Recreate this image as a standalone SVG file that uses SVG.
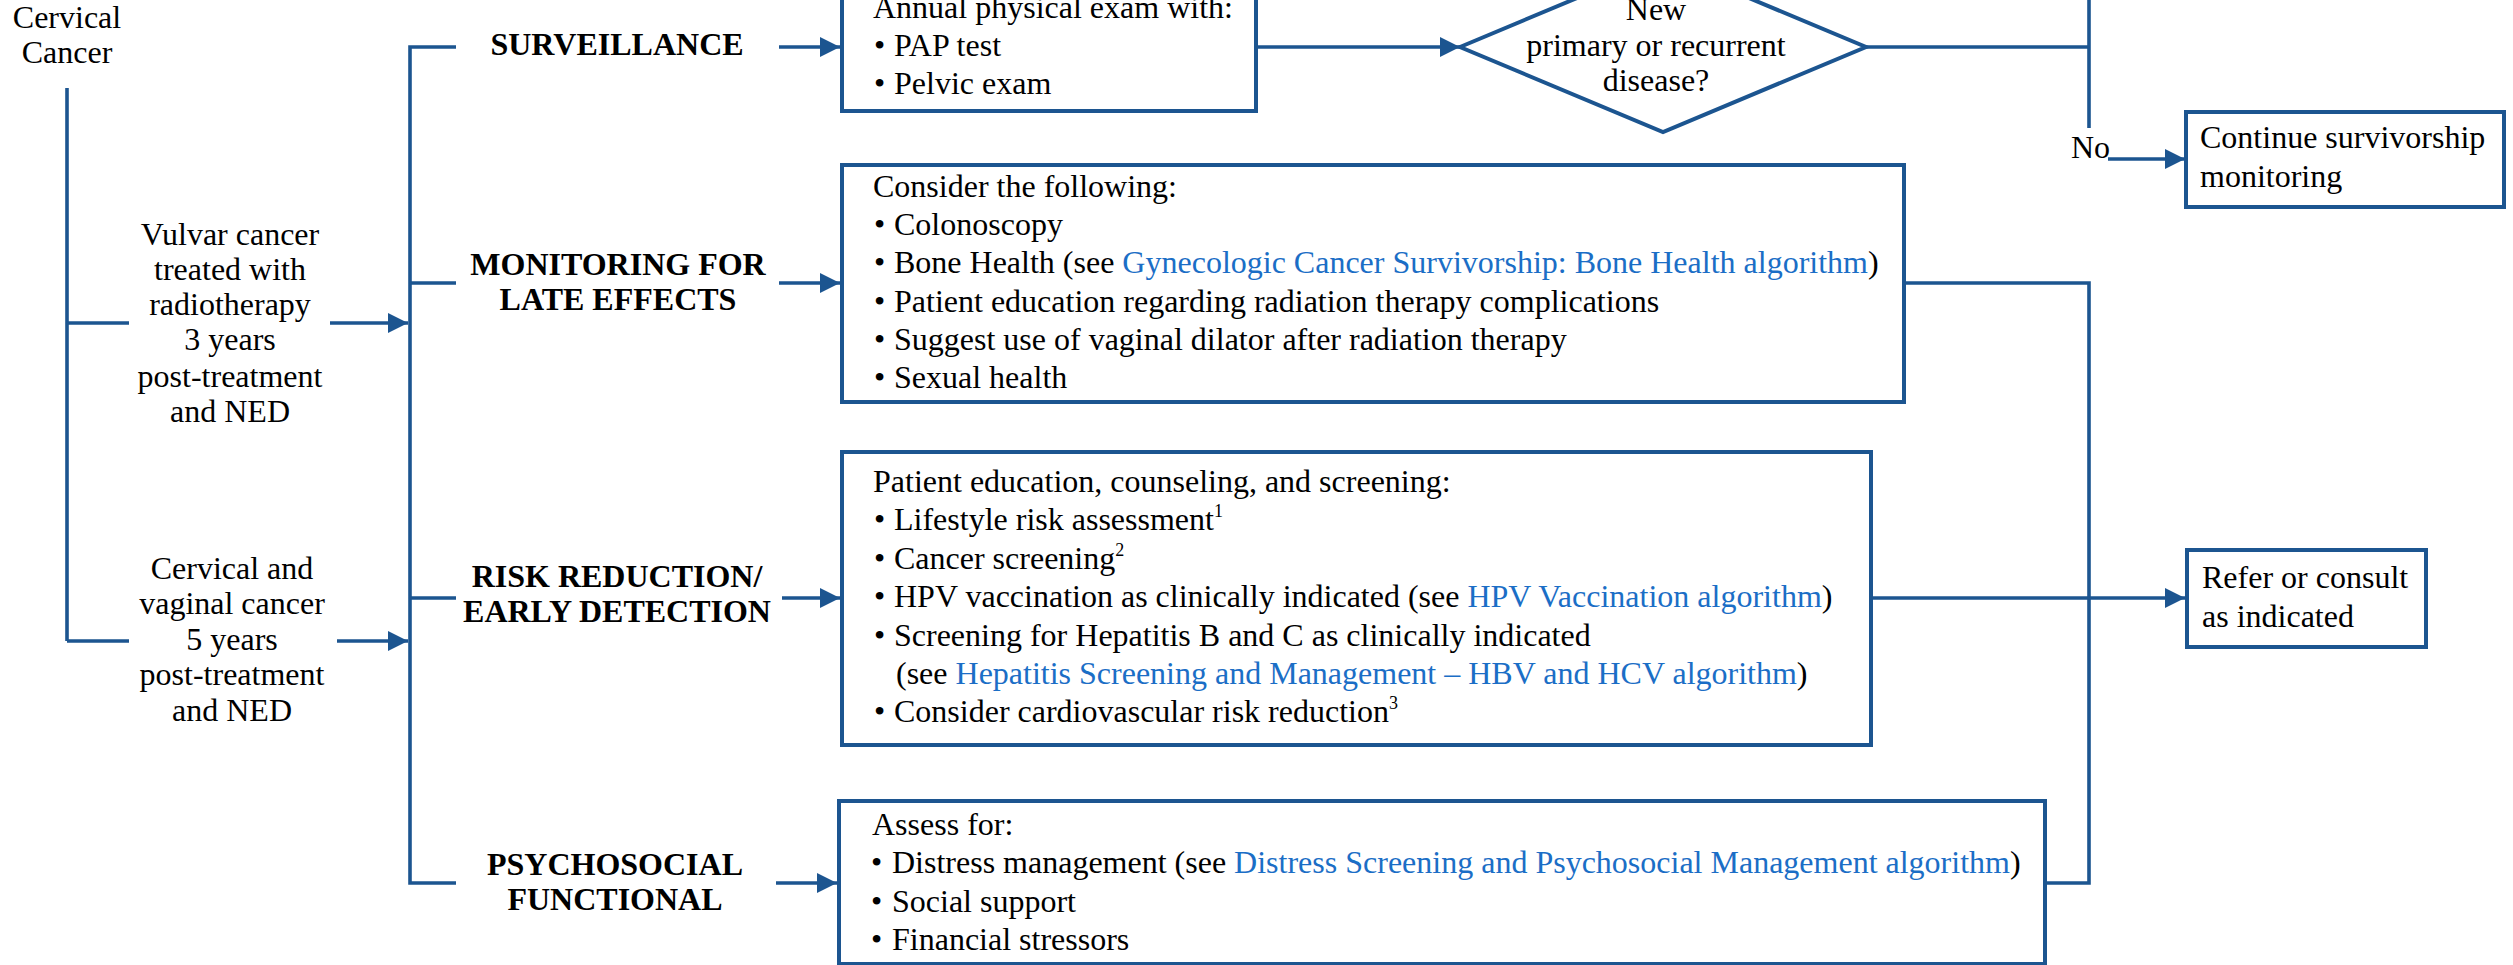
<svg xmlns="http://www.w3.org/2000/svg" width="2513" height="965" viewBox="0 0 2513 965">
<style>
text{font-family:"Liberation Serif","Times New Roman",serif;font-size:32px;fill:#000}
.c{text-anchor:middle}
.b{font-weight:bold}
.lk{fill:#1b6ec6}
.sup{font-size:18px}
.box{fill:#fff;stroke:#1c5590;stroke-width:4}
.ln{fill:none;stroke:#1c5590;stroke-width:3.6}
</style>
<defs>
<marker id="ah" markerUnits="userSpaceOnUse" viewBox="0 0 20 20" refX="20" refY="10" markerWidth="20" markerHeight="20" orient="auto">
<path d="M0,0 L20,10 L0,20 z" fill="#1c5590"/>
</marker>
</defs>
<rect width="2513" height="965" fill="#fff"/>

<g id="connectors">
<path class="ln" d="M67,88 V641 M67,323 H129 M67,641 H129"/>
<path class="ln" d="M330,323 H408" marker-end="url(#ah)"/>
<path class="ln" d="M337,641 H408" marker-end="url(#ah)"/>
<path class="ln" d="M456,47 H410 V883 H456 M410,283 H456 M410,598 H456"/>
<path class="ln" d="M779,47 H840" marker-end="url(#ah)"/>
<path class="ln" d="M779,283 H840" marker-end="url(#ah)"/>
<path class="ln" d="M782,598 H840" marker-end="url(#ah)"/>
<path class="ln" d="M776,883 H837" marker-end="url(#ah)"/>
<path class="ln" d="M1256,47 H1460" marker-end="url(#ah)"/>
<path class="ln" d="M1866,47 H2089 M2089,-10 V128"/>
<path class="ln" d="M2108,159 H2185" marker-end="url(#ah)"/>
<path class="ln" d="M1904,283 H2089 V883 H2045"/>
<path class="ln" d="M1871,598 H2185" marker-end="url(#ah)"/>
</g>

<g id="n-cervical">
<text class="c" x="67" y="28">Cervical</text>
<text class="c" x="67" y="63">Cancer</text>
</g>

<g id="n-vulvar">
<text class="c" x="230" y="245">Vulvar cancer</text>
<text class="c" x="230" y="280">treated with</text>
<text class="c" x="230" y="315">radiotherapy</text>
<text class="c" x="230" y="350">3 years</text>
<text class="c" x="230" y="387">post-treatment</text>
<text class="c" x="230" y="422">and NED</text>
</g>

<g id="n-cervvag">
<text class="c" x="232" y="579">Cervical and</text>
<text class="c" x="232" y="614">vaginal cancer</text>
<text class="c" x="232" y="650">5 years</text>
<text class="c" x="232" y="685">post-treatment</text>
<text class="c" x="232" y="721">and NED</text>
</g>

<g id="n-surv-label"><text class="c b" x="617" y="55">SURVEILLANCE</text></g>
<g id="n-mon-label">
<text class="c b" x="618" y="275">MONITORING FOR</text>
<text class="c b" x="618" y="310">LATE EFFECTS</text>
</g>
<g id="n-risk-label">
<text class="c b" x="617" y="587">RISK REDUCTION/</text>
<text class="c b" x="617" y="622">EARLY DETECTION</text>
</g>
<g id="n-psych-label">
<text class="c b" x="615" y="875">PSYCHOSOCIAL</text>
<text class="c b" x="615" y="910">FUNCTIONAL</text>
</g>

<g id="n-surv-box">
<rect class="box" x="842" y="-20" width="414" height="131"/>
<text x="873" y="18">Annual physical exam with:</text>
<text x="874" y="56">•</text><text x="894" y="56">PAP test</text>
<text x="874" y="94">•</text><text x="894" y="94">Pelvic exam</text>
</g>

<g id="n-diamond">
<path class="box" d="M1460,47 L1663,-38 L1866,47 L1663,132 z"/>
<text class="c" x="1656" y="20">New</text>
<text class="c" x="1656" y="56">primary or recurrent</text>
<text class="c" x="1656" y="91">disease?</text>
</g>

<g id="n-no"><text x="2071" y="158">No</text></g>

<g id="n-continue">
<rect class="box" x="2186" y="112" width="318" height="95"/>
<text x="2200" y="148">Continue survivorship</text>
<text x="2200" y="187">monitoring</text>
</g>

<g id="n-mon-box">
<rect class="box" x="842" y="165" width="1062" height="237"/>
<text x="873" y="197">Consider the following:</text>
<text x="874" y="235">•</text><text x="894" y="235">Colonoscopy</text>
<text x="874" y="273">•</text><text x="894" y="273">Bone Health (see <tspan class="lk">Gynecologic Cancer Survivorship: Bone Health algorithm</tspan>)</text>
<text x="874" y="312">•</text><text x="894" y="312">Patient education regarding radiation therapy complications</text>
<text x="874" y="350">•</text><text x="894" y="350">Suggest use of vaginal dilator after radiation therapy</text>
<text x="874" y="388">•</text><text x="894" y="388">Sexual health</text>
</g>

<g id="n-risk-box">
<rect class="box" x="842" y="452" width="1029" height="293"/>
<text x="873" y="492">Patient education, counseling, and screening:</text>
<text x="874" y="530">•</text><text x="894" y="530">Lifestyle risk assessment<tspan class="sup" dy="-13">1</tspan></text>
<text x="874" y="569">•</text><text x="894" y="569">Cancer screening<tspan class="sup" dy="-13">2</tspan></text>
<text x="874" y="607">•</text><text x="894" y="607">HPV vaccination as clinically indicated (see <tspan class="lk">HPV Vaccination algorithm</tspan>)</text>
<text x="874" y="646">•</text><text x="894" y="646">Screening for Hepatitis B and C as clinically indicated</text>
<text x="896" y="684">(see <tspan class="lk">Hepatitis Screening and Management – HBV and HCV algorithm</tspan>)</text>
<text x="874" y="722">•</text><text x="894" y="722">Consider cardiovascular risk reduction<tspan class="sup" dy="-13">3</tspan></text>
</g>

<g id="n-refer">
<rect class="box" x="2187" y="550" width="239" height="97"/>
<text x="2202" y="588">Refer or consult</text>
<text x="2202" y="627">as indicated</text>
</g>

<g id="n-psych-box">
<rect class="box" x="839" y="801" width="1206" height="163"/>
<text x="872" y="835">Assess for:</text>
<text x="871" y="873">•</text><text x="892" y="873">Distress management (see <tspan class="lk">Distress Screening and Psychosocial Management algorithm</tspan>)</text>
<text x="871" y="912">•</text><text x="892" y="912">Social support</text>
<text x="871" y="950">•</text><text x="892" y="950">Financial stressors</text>
</g>
</svg>
